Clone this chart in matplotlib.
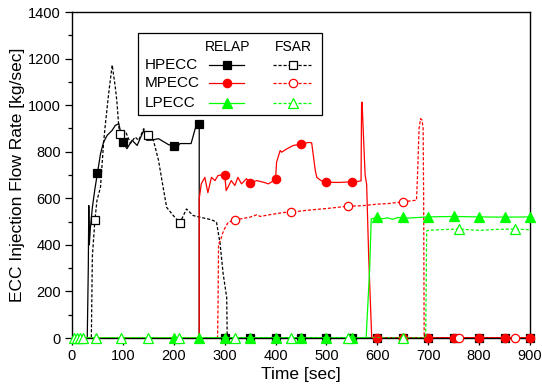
import numpy as np
import matplotlib
matplotlib.use("Agg")
from matplotlib import pyplot as plt
from matplotlib.lines import Line2D
from matplotlib.patches import Rectangle
from matplotlib.ticker import MultipleLocator

plt.rcParams['font.family'] = ['Liberation Sans', 'DejaVu Sans']

# HPECC - RELAP (solid black)
hp_relap_t = [0, 30, 32, 33, 34, 36, 40, 45, 50, 56, 62, 69, 79, 85, 92, 100, 108, 118, 128,
              141, 147, 157, 170, 190, 200, 203, 212, 234, 243, 250, 250, 900]
hp_relap_v = [0, 0, 300, 569, 400, 470, 560, 640, 708, 791, 841, 870, 892, 913, 920, 840, 813,
              849, 827, 892, 849, 850, 856, 830, 826, 806, 835, 835, 906, 918, 0, 0]
hp_relap_mt = [50, 100, 200, 250, 300, 350, 400, 450, 500, 550, 600, 650, 700, 750, 800, 850, 900]
hp_relap_mv = [708, 840, 826, 918, 0, 0, 0, 0, 0, 0, 0, 0, 0, 0, 0, 0, 0]

# HPECC - FSAR (dashed black)
hp_fsar_t = [0, 38, 40, 45, 49, 56, 62, 65, 72, 79, 85, 88, 92, 95, 105, 115, 124, 131, 141, 151,
             160, 170, 179, 186, 199, 212, 225, 238, 251, 268, 278, 284, 291, 297, 304, 305, 900]
hp_fsar_v = [0, 0, 350, 505, 590, 648, 836, 906, 1050, 1172, 1078, 1021, 906, 877, 888, 836, 863,
             849, 899, 870, 849, 763, 648, 561, 526, 494, 554, 526, 519, 511, 504, 497, 405, 276,
             174, 0, 0]
hp_fsar_mt = [45, 95, 150, 212]
hp_fsar_mv = [505, 876, 872, 494]

# MPECC - RELAP (solid red)
mp_relap_t = [0, 250, 250, 254, 261, 267, 274, 281, 287, 300, 303, 313, 320, 326, 333, 343, 350,
              363, 376, 386, 400, 402, 409, 412, 422, 435, 450, 465, 471, 478, 481, 490, 500, 525,
              550, 560, 568, 569, 570, 572, 576, 579, 583, 589, 900]
mp_relap_v = [0, 0, 598, 662, 690, 624, 690, 676, 698, 701, 633, 676, 655, 690, 662, 684, 665,
              676, 669, 662, 681, 755, 805, 798, 812, 827, 832, 840, 838, 720, 690, 675, 669, 668,
              671, 672, 675, 1000, 1013, 906, 700, 660, 350, 0, 0]
mp_relap_mt = [300, 350, 400, 450, 500, 550, 600, 650, 700, 750, 800, 850, 900]
mp_relap_mv = [701, 665, 681, 832, 669, 671, 0, 0, 0, 0, 0, 0, 0]

# MPECC - FSAR (dashed red)
mp_fsar_t = [0, 286, 287, 288, 292, 296, 300, 307, 320, 350, 363, 370, 390, 416, 430, 460, 500,
             542, 570, 600, 620, 651, 677, 679, 682, 685, 688, 690, 691, 692, 900]
mp_fsar_v = [0, 0, 150, 404, 420, 450, 470, 497, 507, 519, 529, 522, 530, 539, 540, 548, 556,
             566, 568, 575, 577, 585, 592, 700, 900, 942, 935, 900, 600, 0, 0]
mp_fsar_mt = [320, 430, 542, 651, 760, 870]
mp_fsar_mv = [507, 539, 566, 585, 0, 0]

# LPECC - RELAP (solid green)
lp_relap_t = [0, 578, 585, 588, 600, 610, 620, 630, 640, 650, 660, 700, 750, 800, 850, 900]
lp_relap_v = [0, 0, 300, 511, 518, 512, 516, 510, 517, 518, 515, 520, 522, 520, 519, 520]
lp_relap_mt = [200, 250, 300, 350, 400, 450, 500, 550, 600, 650, 700, 750, 800, 850, 900]
lp_relap_mv = [0, 0, 0, 0, 0, 0, 0, 0, 518, 518, 520, 522, 520, 519, 520]

# LPECC - FSAR (dashed green)
lp_fsar_t = [0, 695, 697, 700, 720, 760, 800, 830, 870, 900]
lp_fsar_v = [0, 0, 460, 462, 465, 468, 462, 466, 468, 465]
lp_fsar_mt = [4, 10, 16, 22, 47, 96, 149, 211, 320, 430, 542, 650, 760, 870]
lp_fsar_mv = [0, 0, 0, 0, 0, 0, 0, 0, 0, 0, 0, 0, 468, 468]

series = [
    # t, v, marker t, marker v, color, dashed, marker, filled, zorder
    (hp_relap_t, hp_relap_v, hp_relap_mt, hp_relap_mv, "black", False, "s", True, 2),
    (mp_relap_t, mp_relap_v, mp_relap_mt, mp_relap_mv, "#ff0000", False, "o", True, 3),
    (lp_relap_t, lp_relap_v, lp_relap_mt, lp_relap_mv, "#00ff00", False, "^", True, 4),
    (hp_fsar_t, hp_fsar_v, hp_fsar_mt, hp_fsar_mv, "black", True, "s", False, 2.5),
    (mp_fsar_t, mp_fsar_v, mp_fsar_mt, mp_fsar_mv, "#ff0000", True, "o", False, 3.5),
    (lp_fsar_t, lp_fsar_v, lp_fsar_mt, lp_fsar_mv, "#00ff00", True, "^", False, 4.5),
]
msize = {"s": 5.5, "o": 6, "^": 6.5}
dash = (2.5, 1.5)

fig = plt.figure(figsize=(5.42, 3.87), dpi=100)
ax = fig.add_axes([72/542, 49/387, 458/542, 326/387])

for t, v, mt, mv, col, dashed, mk, filled, z in series:
    ls = "--" if dashed else "-"
    ln, = ax.plot(t, v, ls, color=col, lw=0.9, zorder=z)
    if dashed:
        ln.set_dashes(dash)
    ax.plot(mt, mv, mk, ls="none", ms=msize[mk], mec=col,
            mfc=col if filled else "white", mew=0.9, zorder=z + 0.2, clip_on=False)

ax.set_xlim(0, 900)
ax.set_ylim(0, 1400)
ax.xaxis.set_major_locator(MultipleLocator(100))
ax.xaxis.set_minor_locator(MultipleLocator(50))
ax.yaxis.set_major_locator(MultipleLocator(200))
ax.yaxis.set_minor_locator(MultipleLocator(100))
ax.tick_params(which="major", direction="out", length=5, width=0.9, labelsize=10.5, pad=3)
ax.tick_params(which="minor", direction="out", length=3, width=0.9)
for sp in ax.spines.values():
    sp.set_linewidth(1.0)
ax.set_xlabel("Time [sec]", fontsize=12.5, labelpad=3)
ax.set_ylabel("ECC Injection Flow Rate [kg/sec]", fontsize=12.5, labelpad=2)

# hand-built legend (rows x RELAP/FSAR columns), axes coordinates
tr = ax.transAxes
ax.add_patch(Rectangle((0.144, 0.684), 0.402, 0.252, transform=tr, fill=False,
                       ec="black", lw=0.9, zorder=10))
ax.text(0.340, 0.894, "RELAP", transform=tr, ha="center", va="center", fontsize=10, zorder=11)
ax.text(0.4825, 0.894, "FSAR", transform=tr, ha="center", va="center", fontsize=10, zorder=11)
rows = ["HPECC", "MPECC", "LPECC"]
row_y = [0.838, 0.781, 0.722]
for i, name in enumerate(rows):
    y = row_y[i]
    ax.text(0.158, y, name, transform=tr, ha="left", va="center", fontsize=11, zorder=11)
    for j, (x0, x1, xm) in enumerate([(0.300, 0.376, 0.339), (0.4395, 0.521, 0.483)]):
        t, v, mt, mv, col, dashed, mk, filled, z = series[i + 3 * j]
        l = Line2D([x0, x1], [y, y], transform=tr, color=col, lw=0.9,
                   ls="--" if dashed else "-", zorder=11)
        if dashed:
            l.set_dashes(dash)
        ax.add_line(l)
        ax.add_line(Line2D([xm], [y], transform=tr, marker=mk, ls="none", ms=msize[mk],
                           mec=col, mfc=col if filled else "white", mew=0.9, zorder=12))

fig.savefig("out.png", dpi=100)
